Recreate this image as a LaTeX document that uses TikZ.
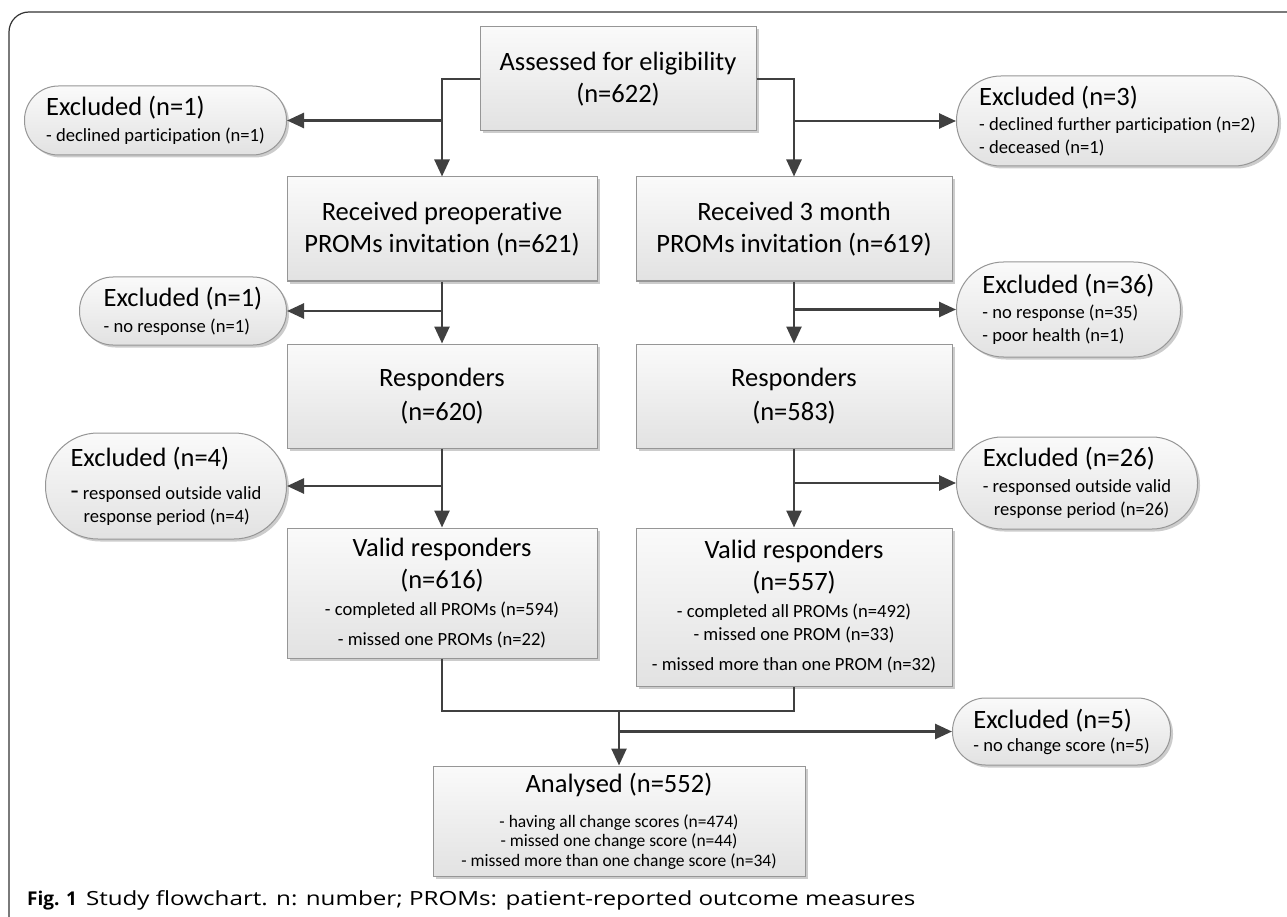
\documentclass[tikz,border=0pt]{standalone}
\usepackage{fontspec}
\setmainfont{Carlito}[Ligatures=NoCommon]
\newfontfamily\capfam{Open Sans}
\newfontfamily\capwide{Open Sans}[FakeStretch=1.24]
\usepackage{tikz}
\usetikzlibrary{arrows.meta, calc, shadows}
\definecolor{linea}{RGB}{64,64,64}
\definecolor{borde}{RGB}{150,150,150}
\definecolor{cima}{RGB}{250,250,250}
\definecolor{fondo}{RGB}{226,226,226}
\newcommand\titfont{\fontsize{26.5}{32}\selectfont}
\newcommand\subfont{\fontsize{18.6}{23}\selectfont}
\newcommand\minifont{\fontsize{17.5}{20}\selectfont}
\newcommand\capfont{\capwide\fontsize{19.5}{20}\selectfont}

\begin{document}
\begin{tikzpicture}[x=1pt, y=-1pt,
  flowbox/.style n args={2}{draw=borde, line width=1pt, top color=cima, bottom color=fondo,
    drop shadow={shadow xshift=2.5pt, shadow yshift=-2.5pt, opacity=.2, fill=black},
    minimum width=#1, minimum height=#2, inner sep=0pt, align=center, font=\titfont},
  exclbox/.style n args={3}{draw=borde, line width=1pt, top color=cima, bottom color=fondo,
    drop shadow={shadow xshift=2.5pt, shadow yshift=-2.5pt, opacity=.2, fill=black},
    minimum width=#1, minimum height=#2, rounded corners=#3, inner sep=0pt,
    align=left, font=\subfont},
  arrowline/.style={draw=linea, line width=2.6pt, -{Triangle[length=17pt, width=15pt]}},
  plainline/.style={draw=linea, line width=2.6pt}]
\useasboundingbox (0,0) rectangle (1287,917);
\clip (0,0) rectangle (1287,917);
\draw[line width=1.2pt, black!80, rounded corners=20pt] (9,12) rectangle (1330,960);

\node[flowbox={276pt}{104pt}] (assess) at (618,79) {Assessed for eligibility\\(n=622)};
\node[flowbox={310pt}{104pt}] (preop) at (442,229) {Received preoperative\\PROMs invitation (n=621)};
\node[flowbox={316pt}{104pt}] (month3) at (794,229) {Received 3 month\\PROMs invitation (n=619)};
\node[flowbox={310pt}{104pt}] (resp1) at (442,396) {Responders\\[2pt](n=620)};
\node[flowbox={316pt}{104pt}] (resp2) at (794,396) {Responders\\[2pt](n=583)};
\node[flowbox={310pt}{130pt}] (valid1) at (442,593) {Valid responders\\(n=616)\\[-5pt]{\subfont - completed all PROMs (n=594)}\\[-2pt]{\subfont - missed one PROMs (n=22)}};
\node[flowbox={316pt}{158pt}] (valid2) at (794,607) {Valid responders\\(n=557)\\[-5pt]{\subfont - completed all PROMs (n=492)}\\[-9pt]{\subfont - missed one PROM (n=33)}\\[-2pt]{\subfont - missed more than one PROM (n=32)}};
\node[flowbox={372pt}{110pt}] (analysed) at (619,821) {Analysed (n=552)\\[3pt]{\minifont - having all change scores (n=474)}\\[-12.5pt]{\minifont - missed one change score (n=44)}\\[-12.5pt]{\minifont - missed more than one change score (n=34)}};

\node[exclbox={262pt}{69pt}{34pt}, anchor=east] (excl1) at (287,120.5) {{\titfont Excluded (n=1)}\\[3pt]- declined participation (n=1)};
\node[exclbox={322pt}{90pt}{44.5pt}, anchor=west] (excl3) at (956,121) {{\titfont Excluded (n=3)}\\[2pt]- declined further participation (n=2)\\- deceased (n=1)};
\node[exclbox={207pt}{68pt}{33.5pt}, anchor=east] (excl1b) at (287,311) {{\titfont Excluded (n=1)}\\[3pt]- no response (n=1)};
\node[exclbox={224pt}{95pt}{47pt}, anchor=west] (excl36) at (956,309.5) {{\titfont Excluded (n=36)}\\[2pt]- no response (n=35)\\- poor health (n=1)};
\node[exclbox={241pt}{106pt}{52.5pt}, anchor=east] (excl4) at (287,486) {{\titfont Excluded (n=4)}\\[10pt]{\titfont -} responsed outside valid\\\hspace*{13pt}response period (n=4)};
\node[exclbox={241pt}{92pt}{45.5pt}, anchor=west] (excl26) at (956,483) {{\titfont Excluded (n=26)}\\[3pt]- responsed outside valid\\\hspace*{11pt}response period (n=26)};
\node[exclbox={218pt}{67pt}{33pt}, anchor=west] (excl5) at (952,731.5) {{\titfont Excluded (n=5)}\\[0pt]- no change score (n=5)};

\draw[arrowline] (assess.west) -| (preop.north);
\draw[arrowline] (assess.east) -| (month3.north);
\draw[arrowline] (preop.north |- excl1.east) -- (excl1.east);
\draw[arrowline] (month3.north |- excl3.west) -- (excl3.west);
\draw[arrowline] (preop) -- (resp1);
\draw[arrowline] (month3) -- (resp2);
\draw[arrowline] (preop.south |- excl1b.east) -- (excl1b.east);
\draw[arrowline] (month3.south |- excl36.west) -- (excl36.west);
\draw[arrowline] (resp1) -- (valid1);
\draw[arrowline] (resp2) -- (valid2);
\draw[arrowline] (resp1.south |- excl4.east) -- (excl4.east);
\draw[arrowline] (resp2.south |- excl26.west) -- (excl26.west);
\coordinate (merge) at (619,711);
\draw[plainline] (valid1.south) |- (merge) -| (valid2.south);
\draw[arrowline] (merge) -- (analysed.north);
\draw[arrowline] (merge |- excl5.west) -- (excl5.west);

\node[anchor=base west, font=\capfont, inner sep=0pt] (caption) at (27,905) {{\capfam\bfseries\fontsize{19}{20}\selectfont Fig. 1}\hspace{9pt}Study flowchart. n: number; PROMs: patient-reported outcome measures};
\end{tikzpicture}
\end{document}
